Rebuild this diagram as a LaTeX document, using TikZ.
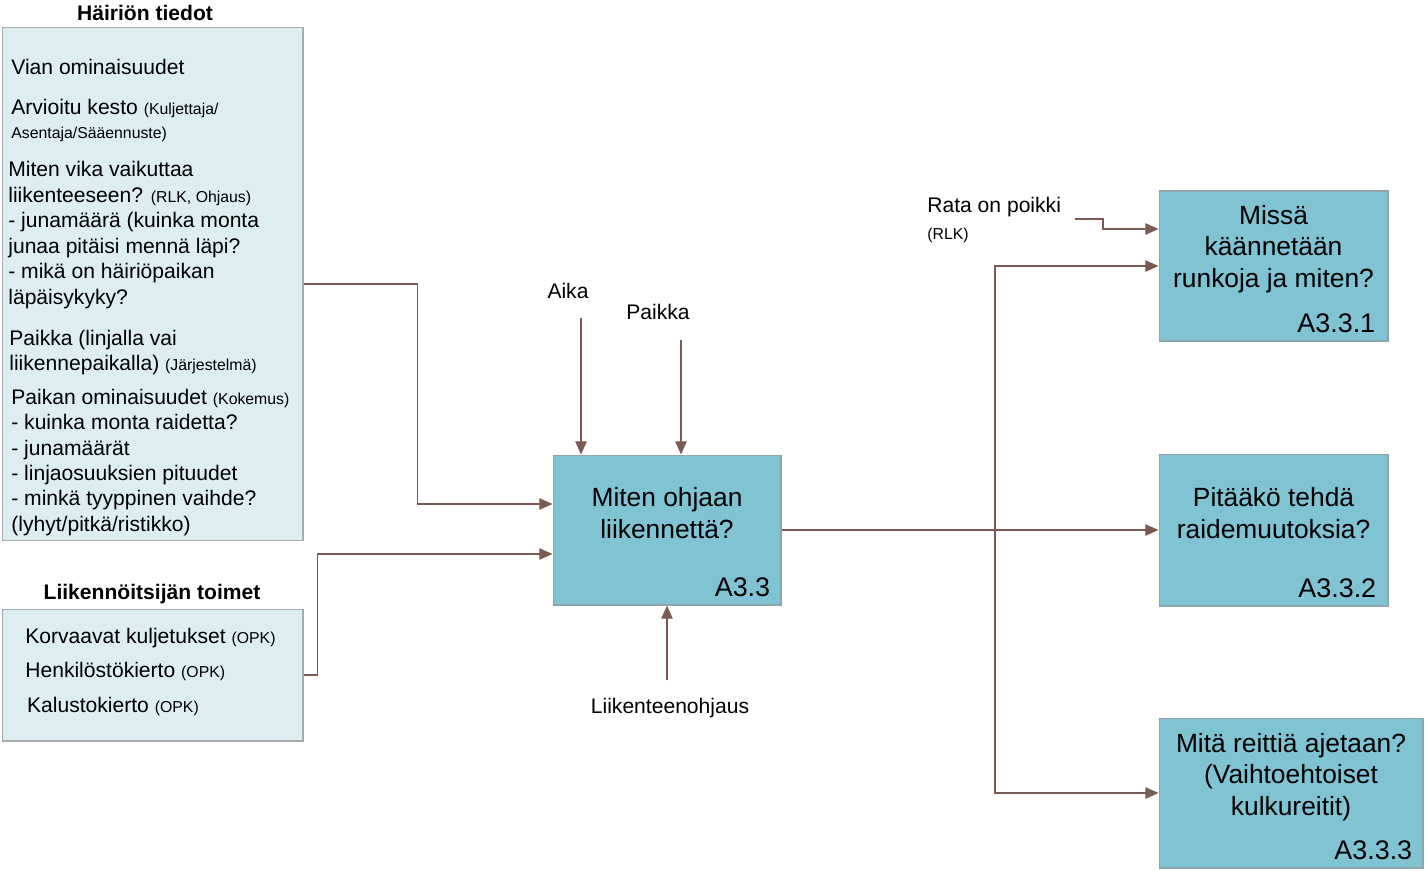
\documentclass[tikz,border=0pt]{standalone}
\usepackage{fontspec}
\setmainfont{Liberation Sans}
\usetikzlibrary{arrows.meta, calc, positioning}
\definecolor{infofill}{HTML}{DDEEF3}
\definecolor{infoline}{HTML}{A5ABAE}
\definecolor{actfill}{HTML}{80C3D3}
\definecolor{actline}{HTML}{8FA5AC}
\definecolor{flowc}{HTML}{7B5A54}
\newcommand{\smalltxt}{\fontsize{9}{10}\selectfont}

\begin{document}
\begin{tikzpicture}[
    x=0.02cm, y=-0.02cm,
    flow/.style={
        flowc,
        line width=0.75pt,
        -{Triangle[length=7.5pt, width=6.5pt]},
    },
    infobox/.style={draw=infoline, fill=infofill, line width=0.6pt, inner sep=0pt},
    actbox/.style={draw=actline, fill=actfill, line width=0.6pt, inner sep=0pt},
    infotxt/.style={anchor=north west, align=left, inner sep=0pt},
    titletxt/.style={font=\fontsize{12}{14}\selectfont\bfseries, inner sep=0pt},
    qtext/.style={align=center, inner sep=0pt, font=\fontsize{15}{18}\selectfont},
    idtxt/.style={anchor=south east, inner sep=0pt, font=\fontsize{15.3}{17}\selectfont},
    lbl/.style={inner sep=0pt, font=\fontsize{12}{14}\selectfont},
]
\useasboundingbox (0,0) rectangle (1425,870);

% =============================================
% HÄIRIÖN TIEDOT – input box
% =============================================
\node[infobox, minimum width=6.02cm, minimum height=10.28cm] (hairio) at (152.5,284) {};
\node[titletxt] (hairiotitle) at (145,13) {Häiriön tiedot};

\node[infotxt, font=\fontsize{12}{14.5}\selectfont] (vika) at (11,59) {Vian ominaisuudet};
\node[infotxt, font=\fontsize{12}{13.6}\selectfont] (kesto) at (11,99)
  {Arvioitu kesto {\smalltxt (Kuljettaja/}\\{\smalltxt Asentaja/Sääennuste)}};
\node[infotxt, font=\fontsize{12}{14.5}\selectfont] (vaikutus) at (8,161)
  {Miten vika vaikuttaa\\
   liikenteeseen? {\smalltxt (RLK, Ohjaus)}\\
   - junamäärä (kuinka monta\\
   junaa pitäisi mennä läpi?\\
   - mikä on häiriöpaikan\\
   läpäisykyky?};
\node[infotxt, font=\fontsize{12}{14.2}\selectfont] (paikkatieto) at (9,330)
  {Paikka (linjalla vai\\
   liikennepaikalla) {\smalltxt (Järjestelmä)}};
\node[infotxt, font=\fontsize{12}{14.4}\selectfont] (ominaisuus) at (11,389)
  {Paikan ominaisuudet {\smalltxt (Kokemus)}\\
   - kuinka monta raidetta?\\
   - junamäärät\\
   - linjaosuuksien pituudet\\
   - minkä tyyppinen vaihde?\\
   (lyhyt/pitkä/ristikko)};

% =============================================
% LIIKENNÖITSIJÄN TOIMET – input box
% =============================================
\node[infobox, minimum width=6.02cm, minimum height=2.64cm] (toimet) at (152.5,675) {};
\node[titletxt] (toimettitle) at (152,594) {Liikennöitsijän toimet};
\node[infotxt, font=\fontsize{12}{19.5}\selectfont] (toimettxt) at (25,628)
  {Korvaavat kuljetukset {\smalltxt (OPK)}\\
   Henkilöstökierto {\smalltxt (OPK)}\\
   \hspace{1pt}Kalustokierto {\smalltxt (OPK)}};

% =============================================
% ACTIVITIES
% =============================================
\node[actbox, minimum width=4.56cm, minimum height=3.0cm] (ohjaus) at (667,530) {};
\node[qtext] (ohjausq) at ($(ohjaus.center)+(0,-17)$) {Miten ohjaan\\liikennettä?};
\node[idtxt] (ohjausid) at ($(ohjaus.south east)+(-11,-8)$) {A3.3};

\node[actbox, minimum width=4.58cm, minimum height=3.0cm] (kaanto) at (1273.5,266) {};
\node[qtext] (kaantoq) at ($(kaanto.center)+(0,-17)$) {Missä\\käännetään\\runkoja ja miten?};
\node[idtxt] (kaantoid) at ($(kaanto.south east)+(-13,-8)$) {A3.3.1};

\node[actbox, minimum width=4.58cm, minimum height=3.04cm] (raide) at (1273.5,530) {};
\node[qtext] (raideq) at ($(raide.center)+(0,-17)$) {Pitääkö tehdä\\raidemuutoksia?};
\node[idtxt] (raideid) at ($(raide.south east)+(-12,-8)$) {A3.3.2};

\node[actbox, minimum width=5.28cm, minimum height=3.0cm] (reitti) at (1291,793) {};
\node[qtext] (reittiq) at ($(reitti.center)+(0,-16)$) {Mitä reittiä ajetaan?\\(Vaihtoehtoiset\\kulkureitit)};
\node[idtxt] (reittiid) at ($(reitti.south east)+(-11,-8)$) {A3.3.3};

% =============================================
% CONTROLS AND MECHANISM
% =============================================
\node[lbl] (aika) at (568,291) {Aika};
\coordinate (aikaend) at (581,318);
\draw[flow] (aikaend) -- (aikaend |- ohjaus.north);

\node[lbl] (paikka) at (658,312) {Paikka};
\coordinate (paikkaend) at (681,340);
\draw[flow] (paikkaend) -- (paikkaend |- ohjaus.north);

\node[lbl] (ohjaaja) at (670,708) {Liikenteenohjaus};
\coordinate (ohjaajaend) at (667,680);
\draw[flow] (ohjaajaend) -- (ohjaajaend |- ohjaus.south);

\node[lbl, anchor=north west, align=left, font=\fontsize{12}{15.3}\selectfont] (rata) at (927,197)
  {Rata on poikki\\{\smalltxt (RLK)}};
\coordinate (rataend) at (1075,219);
\draw[flow] (rataend) -- ++(28,0) |- ($(kaanto.west)+(0,-37)$);

% =============================================
% INPUT AND OUTPUT ARROWS
% =============================================
\draw[flow] (hairio.east) -- ++(114,0) |- ($(ohjaus.west)+(0,-26)$);
\draw[flow] (toimet.east) -- ++(14,0) |- ($(ohjaus.west)+(0,24)$);

\coordinate (haara) at (995,530);
\draw[flow] (ohjaus.east) -- (raide.west);
\draw[flow] (haara) |- (kaanto.west);
\draw[flow] (haara) |- (reitti.west);

\end{tikzpicture}
\end{document}
